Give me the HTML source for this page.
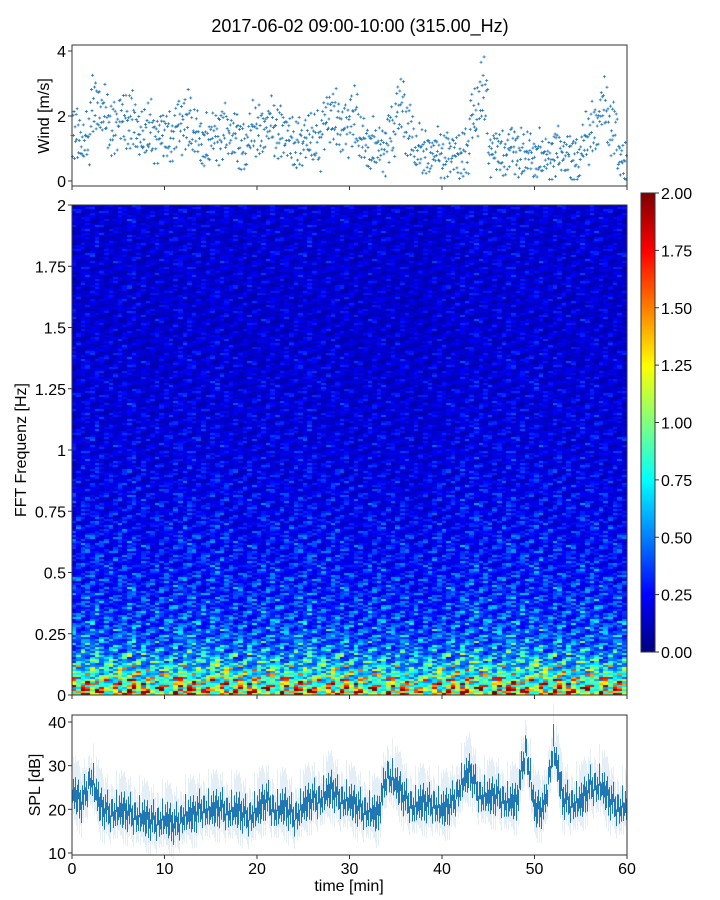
<!DOCTYPE html>
<html><head><meta charset="utf-8">
<style>
body{margin:0;background:#fff;font-family:"Liberation Sans",sans-serif;}
#wrap{position:relative;width:720px;height:900px;}
svg text{font-family:"Liberation Sans",sans-serif;}
canvas{position:absolute;}
</style></head>
<body>
<div id="wrap">
<canvas id="spec" style="left:72px;top:205px" width="555" height="490"></canvas>
<canvas id="cbar" style="left:641px;top:193px" width="14" height="459"></canvas>
<svg id="svg" width="720" height="900" style="position:absolute;left:0;top:0"></svg>
</div>
<script>
// ---- data ----
const windMinutes=[...Array(60).keys()];
const windMean=[1.4,1.2,2.3,2.0,1.6,1.9,1.8,1.4,1.5,1.4,1.3,1.7,1.8,1.4,1.1,1.4,1.5,1.4,1.0,1.5,1.5,1.7,1.5,1.3,1.1,1.3,1.2,1.9,1.9,1.6,1.9,1.2,1.0,1.0,1.4,2.3,1.5,0.9,0.8,0.9,0.8,0.8,0.8,2.0,2.6,0.9,0.8,1.0,0.8,0.8,0.7,0.7,0.9,0.8,0.6,1.2,1.6,2.2,1.6,0.6];
const windJitter=[0.0,-0.5,0.4,-0.2,0.7,-0.7,0.2,-0.3,0.5,-0.1,0.9,-0.6,0.3,-0.4,0.1,0.6,-0.8,0.25];
const splMean=[23,21,27,20,19,19,19,18,17,17,17,16,18,18,20,19,20,19,19,18,19,22,19,20,18,20,22,22,24,22,21,20,19,18,28,25,22,20,21,21,19,21,25,28,23,22,23,21,21,34,19,20,34,22,21,21,25,25,22,20];
const splWiggle=[0,1.5,-1,2.5,-2,0.5,3,-1.5,1,-2.5,2,-0.5,4,-1,0.5,-3,1.5,2,-2,0.8,-1.2,3.5,-0.8];
const freqLevels=[0,0.02,0.05,0.1,0.15,0.2,0.3,0.5,0.75,1,1.5,2];
const freqValues=[1.45,1.3,1.05,0.8,0.6,0.48,0.38,0.3,0.24,0.2,0.17,0.18];
const timeFactor=[1.0,1.05,1.1,1.0,1.0,1.05,1.1,1.0,0.95,1.0,1.0,1.05,1.1,1.05,1.0,1.1,1.05,1.0,0.95,1.0,1.0,1.05,1.0,1.0,1.05,1.1,1.0,1.0,1.05,1.0,0.95,0.95,1.0,1.0,0.95,1.0,0.95,0.9,0.95,1.0,1.0,1.0,1.05,1.1,1.05,1.0,1.05,1.1,1.05,1.05,1.1,1.0,1.05,1.0,1.0,1.05,1.05,1.0,1.0,1.0];
const texture=[1.0,0.4,1.5,0.7,1.25,0.35,1.7,0.9,0.55,1.35,1.1,0.5,1.6,0.8,1.3,0.45,1.05,1.4,0.65,0.95,1.55,0.4,1.15];
const xTicks=[0,10,20,30,40,50,60];
const windTicks=[0,2,4];
const splTicks=[10,20,30,40];
const freqTicks=["0","0.25","0.5","0.75","1","1.25","1.5","1.75","2"];
const cbTicks=["0.00","0.25","0.50","0.75","1.00","1.25","1.50","1.75","2.00"];

// ---- axes ----
const X0=72,X1=627;
const xs=t=>X0+(X1-X0)*t/60;
const yW=v=>181-v*32.5;
const yF=f=>695-f*245;
const yS=v=>853-(v-10)*(131/30);
const yC=v=>652-v*229.5;

function jet(v){let x=Math.max(0,Math.min(1,v/2));
 const r=Math.max(0,Math.min(1,1.5-Math.abs(4*x-3))),g=Math.max(0,Math.min(1,1.5-Math.abs(4*x-2))),b=Math.max(0,Math.min(1,1.5-Math.abs(4*x-1)));
 return [r*255|0,g*255|0,b*255|0];}
function profile(f){for(let i=1;i<freqLevels.length;i++){if(f<=freqLevels[i]){const a=(f-freqLevels[i-1])/(freqLevels[i]-freqLevels[i-1]);return freqValues[i-1]*(1-a)+freqValues[i]*a;}}return freqValues[freqValues.length-1];}

// spectrogram
const sc=document.getElementById('spec').getContext('2d');
const nRows=245,nCols=120;
for(let r=0;r<nRows;r++){const f=(r+0.5)/nRows*2;const base=profile(f);
 for(let c=0;c<nCols;c++){const t=(c+0.5)/nCols*60;const tf=timeFactor[Math.floor(t)];
  const tx=texture[(r*7+c*3+(r>>2))%texture.length];
  const tx2=texture[(r*5+c*11)%texture.length];
  let v=base*tf*(0.35+0.65*tx*tx2);
  const [R,G,B]=jet(v);sc.fillStyle=`rgb(${R},${G},${B})`;
  const x0=Math.floor(c*555/nCols),x1=Math.floor((c+1)*555/nCols);
  sc.fillRect(x0,490-(r+1)*2,x1-x0,2);}}
// colorbar
const cc=document.getElementById('cbar').getContext('2d');
for(let y=0;y<459;y++){const [R,G,B]=jet(2*(1-y/459));cc.fillStyle=`rgb(${R},${G},${B})`;cc.fillRect(0,y,14,1);}

// svg
const svg=document.getElementById('svg');const NS="http://www.w3.org/2000/svg";
function el(tag,attrs,txt){const e=document.createElementNS(NS,tag);for(const k in attrs)e.setAttribute(k,attrs[k]);if(txt!==undefined)e.textContent=txt;svg.appendChild(e);return e;}
let e;
e=el('text',{x:360,y:32,'text-anchor':'middle','font-size':18},'2017-06-02 09:00-10:00 (315.00_Hz)');



// wind scatter
for(let m=0;m<windMean.length;m++){for(let j=0;j<windJitter.length;j++){
 const t=windMinutes[m]+j/windJitter.length;const v=Math.max(0.05,windMean[m]+windJitter[j]*(0.6+0.2*windMean[m])+windJitter[(j*5+m)%windJitter.length]*0.3);
 const x=xs(t),y=yW(v);
 e=el('path',{d:`M${x-1.5},${y}h3M${x},${y-1.5}v3`,stroke:'#1f77b4','stroke-width':0.8});
 
 }}
e=el('rect',{x:72,y:45,width:555,height:141,fill:'none',stroke:'#333','stroke-width':1});


windTicks.forEach(v=>{el('line',{x1:68,x2:72,y1:yW(v),y2:yW(v),stroke:'#333'});
 e=el('text',{x:66,y:yW(v)+6,'text-anchor':'end','font-size':16},v);
 
 });
xTicks.forEach(v=>el('line',{x1:xs(v),x2:xs(v),y1:186,y2:190,stroke:'#333'}));
e=el('text',{x:0,y:0,'font-size':16,'text-anchor':'middle',transform:`translate(49,116) rotate(-90)`},'Wind [m/s]');



// spectrogram axes
e=el('rect',{x:72,y:205,width:555,height:490,fill:'none',stroke:'#333'});


freqTicks.forEach((s,i)=>{const y=yF(i*0.25);el('line',{x1:68,x2:72,y1:y,y2:y,stroke:'#333'});
 e=el('text',{x:66,y:y+6,'text-anchor':'end','font-size':16},s);
 
 });
xTicks.forEach(v=>el('line',{x1:xs(v),x2:xs(v),y1:695,y2:699,stroke:'#333'}));
e=el('text',{x:0,y:0,'font-size':16,'text-anchor':'middle',transform:`translate(26,450) rotate(-90)`},'FFT Frequenz [Hz]');


// colorbar axes
el('rect',{x:641,y:193,width:14,height:459,fill:'none',stroke:'#333'});
cbTicks.forEach((s,i)=>{const y=yC(i*0.25);el('line',{x1:655,x2:659,y1:y,y2:y,stroke:'#333'});
 e=el('text',{x:661,y:y+6,'font-size':16},s);
 
 });

// SPL
for(let px=0;px<555;px++){const t=px/555*60;const m=Math.floor(t);const a=t-m;
 const v=splMean[m]*(1-a)+splMean[Math.min(59,m+1)]*a+splWiggle[px%splWiggle.length]*0.8;
 const hi=2.5+Math.abs(splWiggle[(px*3)%splWiggle.length]),lo=2.5+Math.abs(splWiggle[(px*7)%splWiggle.length])*0.6;
 e=el('line',{x1:72+px+0.5,x2:72+px+0.5,y1:yS(v+hi*1.6),y2:yS(v-lo*1.5),stroke:'#1f77b4','stroke-opacity':0.12,'stroke-width':1});
 
 
 e=el('line',{x1:72+px+0.5,x2:72+px+0.5,y1:yS(v+hi*0.6),y2:yS(v-lo*0.6),stroke:'#1f77b4','stroke-width':1});
 
 }
e=el('rect',{x:72,y:715,width:555,height:140,fill:'none',stroke:'#333'});


splTicks.forEach(v=>{el('line',{x1:68,x2:72,y1:yS(v),y2:yS(v),stroke:'#333'});
 e=el('text',{x:66,y:yS(v)+6,'text-anchor':'end','font-size':16},v);
 
 });
xTicks.forEach(v=>{el('line',{x1:xs(v),x2:xs(v),y1:855,y2:859,stroke:'#333'});
 e=el('text',{x:xs(v),y:874,'text-anchor':'middle','font-size':16},v);
 
 });
e=el('text',{x:0,y:0,'font-size':16,'text-anchor':'middle',transform:`translate(40,785) rotate(-90)`},'SPL [dB]');


e=el('text',{x:349,y:891,'font-size':16,'text-anchor':'middle'},'time [min]');


</script>
</body></html>
